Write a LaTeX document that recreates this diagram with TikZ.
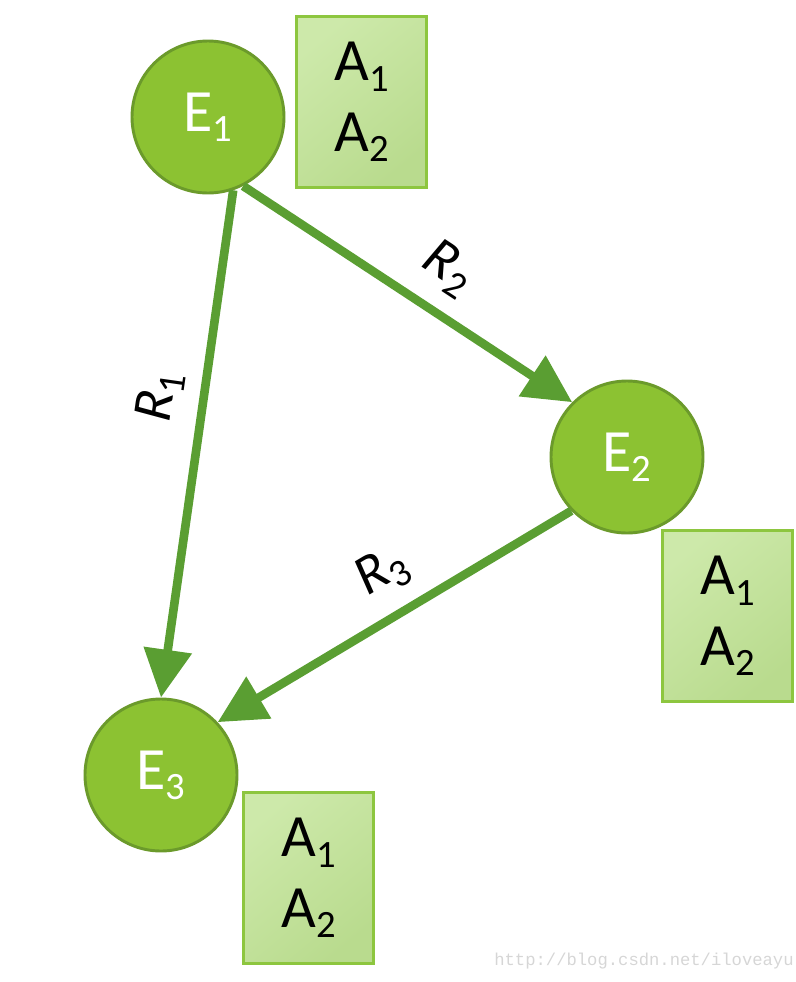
\documentclass[tikz,border=0pt]{standalone}
\usepackage{fontspec}
\setmainfont{Carlito}
\newfontfamily\wmfont{Liberation Mono}
\usetikzlibrary{arrows.meta}

\definecolor{entfill}{HTML}{8CC232}
\definecolor{entline}{HTML}{6B9A2B}
\definecolor{relline}{HTML}{5A9E32}
\definecolor{attlight}{HTML}{CDE9AA}
\definecolor{attdark}{HTML}{B9DB8E}
\definecolor{attline}{HTML}{8DC63F}
\definecolor{wmgray}{HTML}{D6D6D6}

% lowered index as set in the drawing
\newcommand\lowidx[1]{\raisebox{-0.17em}{\fontsize{29}{29}\selectfont #1}}

\begin{document}
\begin{tikzpicture}[
        x=0.75pt, y=-0.75pt,
        ent/.style={circle, draw=entline, line width=2.2pt, fill=entfill,
                    minimum size=114pt, inner sep=0pt, text=white,
                    font=\fontsize{45}{50}\selectfont},
        att/.style={draw=attline, line width=2.2pt,
                    top color=attlight, bottom color=attdark, shading angle=40,
                    minimum width=98pt, minimum height=128pt, inner sep=0pt,
                    align=center, font=\fontsize{45}{53}\selectfont},
        rel/.style={line width=6.5pt, draw=relline,
                    -{Triangle[length=36pt, width=35pt]}},
        rlbl/.style={sloped, above=9pt, font=\fontsize{42}{46}\selectfont},
    ]
        \useasboundingbox (0,0) rectangle (796,982);

        % entities
        \node[ent] (E1) at (208,117) {E\lowidx{1}};
        \node[ent] (E2) at (627,457) {E\lowidx{2}};
        \node[ent] (E3) at (161,775) {E\lowidx{3}};

        % attribute boxes
        \node[att] (A1) at (361.5,102) {A\lowidx{1}\\A\lowidx{2}};
        \node[att] (A2) at (727.5,616) {A\lowidx{1}\\A\lowidx{2}};
        \node[att] (A3) at (308.5,878) {A\lowidx{1}\\A\lowidx{2}};

        % relations
        \draw[rel] (E1.-71) -- node[rlbl, pos=0.42] {\textit{R}\lowidx{1}} (E3.90);
        \draw[rel] (E1.-63) -- node[rlbl, pos=0.55] {\textit{R}\lowidx{2}} (E2.135);
        \draw[rel] (E2.-136) -- node[rlbl, pos=0.47] {\textit{R}\lowidx{3}} (E3.43);

        % watermark
        \node[text=wmgray, font=\wmfont\fontsize{12.9}{14}\selectfont] (wm) at (644,961)
            {http://blog.csdn.net/iloveayu};
\end{tikzpicture}
\end{document}
